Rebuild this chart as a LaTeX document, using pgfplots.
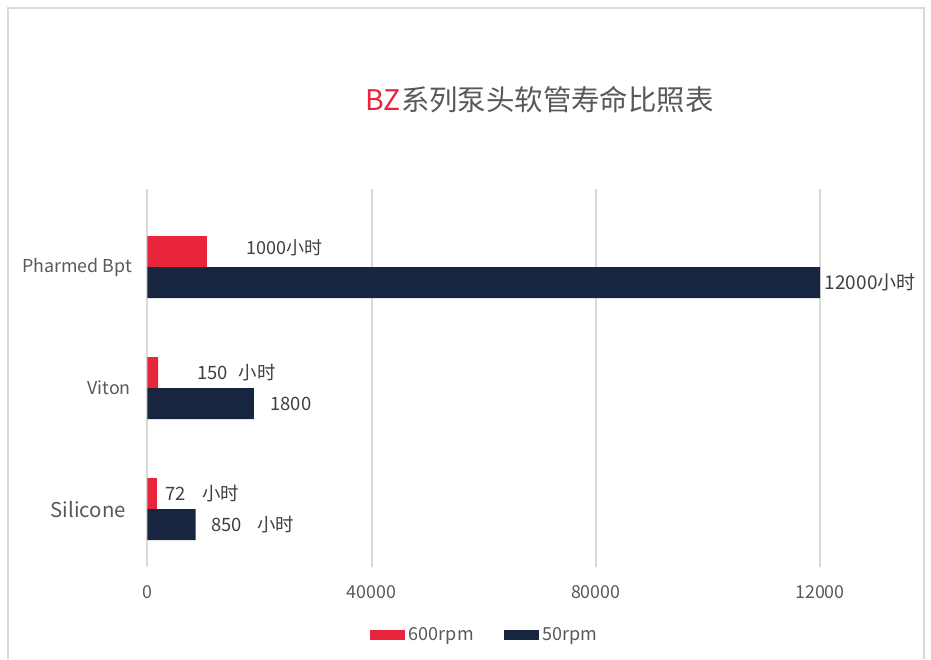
\documentclass[border=0pt]{standalone}
\usepackage{pgfplots}
\pgfplotsset{compat=1.18}
\usepackage{fontspec}
\setmainfont{Noto Sans CJK SC}
\definecolor{bzred}{HTML}{E8253A}
\definecolor{bznavy}{HTML}{182540}
\definecolor{txtgrey}{HTML}{595959}
\definecolor{lblgrey}{HTML}{404040}
\definecolor{gridgrey}{HTML}{D9D9D9}
\begin{document}
\begin{tikzpicture}
\useasboundingbox (0,0) rectangle (465.5pt,329.5pt);
\fill[white] (0,0) rectangle (465.5pt,329.5pt);
\draw[gridgrey,line width=1pt] (4pt,0) -- (4pt,325.5pt) -- (462pt,325.5pt) -- (462pt,0);
\node[anchor=base west,inner sep=0pt,font=\fontsize{14.2}{16}\selectfont] at (182.5pt,274pt) {\textcolor{bzred}{BZ}\textcolor{txtgrey}{系列泵头软管寿命比照表}};
\begin{axis}[
  at={(73.7pt,46pt)}, anchor=south west,
  scale only axis, width=336.3pt, height=189pt,
  xmin=0, xmax=120000, ymin=-0.479, ymax=2.645,
  xbar, bar width=0.256,
  axis line style={draw=none},
  major tick style={draw=none},
  xmajorgrids, ymajorgrids=false,
  major grid style={gridgrey,line width=1pt},
  xtick={0,40000,80000,120000},
  xticklabels={0,40000,80000,12000},
  scaled x ticks=false,
  xticklabel style={font=\fontsize{8.9}{11}\selectfont,text=txtgrey},
  xticklabel shift=6pt,
  ytick={0,1,2},
  yticklabels={{\fontsize{10.2}{12}\selectfont Silicone\kern3pt},{Viton\kern0.5pt},{Pharmed Bpt}},
  yticklabel style={font=\fontsize{8.9}{11}\selectfont,text=txtgrey,xshift=0pt},
  legend style={at={(0.503,-0.18)}, anchor=center, draw=none, fill=none,
    legend columns=2, font=\fontsize{9}{11}\selectfont, text=txtgrey,
    /tikz/every even column/.style={column sep=13pt}},
  legend image code/.code={\fill[#1] (0pt,-2.5pt) rectangle (17.5pt,2.5pt);},
  clip=false,
]
\addplot[fill=bzred, draw=none, bar shift=0.128] coordinates {(1700,0) (1900,1) (10600,2)};
\addlegendentry{600rpm}
\addplot[fill=bznavy, draw=none, bar shift=-0.128] coordinates {(8600,0) (19000,1) (120000,2)};
\addlegendentry{50rpm}
\node[anchor=west,inner sep=0pt,text=lblgrey,font=\fontsize{9}{11}\selectfont] at (axis cs:17600,2.16) {1000小时};
\node[anchor=west,inner sep=0pt,text=lblgrey,font=\fontsize{9.5}{11}\selectfont] at (axis cs:120800,1.872) {12000小时};
\node[anchor=west,inner sep=0pt,text=lblgrey,font=\fontsize{9.2}{11}\selectfont] at (axis cs:8800,1.128) {150\hspace{5.5pt}小时};
\node[anchor=west,inner sep=0pt,text=lblgrey,font=\fontsize{9.2}{11}\selectfont] at (axis cs:21900,0.872) {1800};
\node[anchor=west,inner sep=0pt,text=lblgrey,font=\fontsize{9.2}{11}\selectfont] at (axis cs:3200,0.128) {72\hspace{8pt}小时};
\node[anchor=west,inner sep=0pt,text=lblgrey,font=\fontsize{9.2}{11}\selectfont] at (axis cs:11350,-0.128) {850\hspace{7.5pt}小时};
\end{axis}
\end{tikzpicture}
\end{document}
